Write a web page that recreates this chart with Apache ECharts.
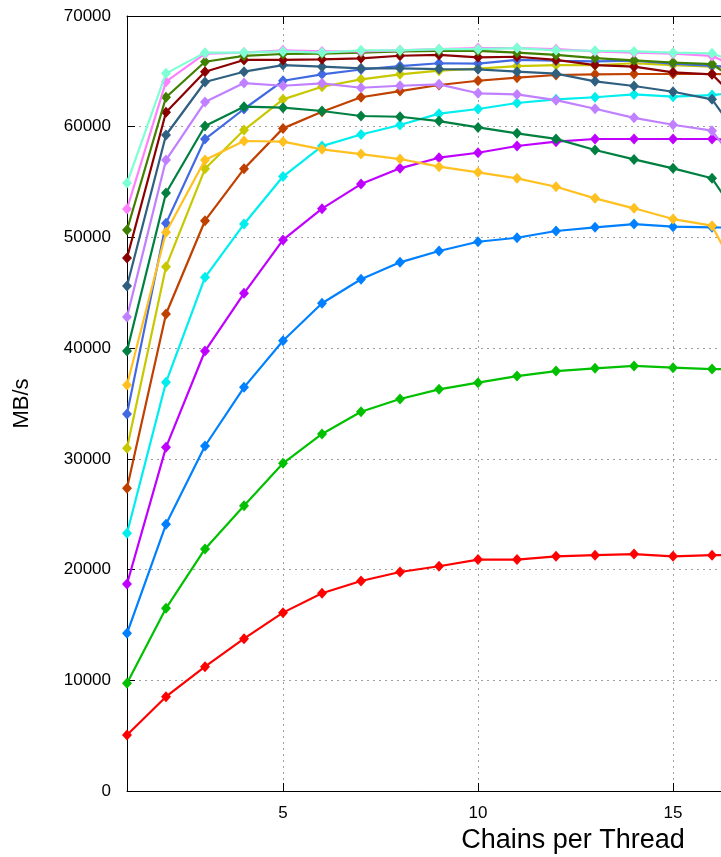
<!DOCTYPE html>
<html>
<head>
<meta charset="utf-8">
<script src="https://cdn.jsdelivr.net/npm/echarts@6/dist/echarts.min.js"></script>
<style>
html,body{margin:0;padding:0;background:#fff;}
#chart{width:721px;height:857px;}
</style>
</head>
<body>
<div id="chart"></div>
<script>
// Chains per thread (x values)
const chains = [1,2,3,4,5,6,7,8,9,10,11,12,13,14,15,16,17];
const xTickLabels = [5, 10, 15];
const yTickLabels = [0,10000,20000,30000,40000,50000,60000,70000];

// MB/s per thread count (1..16 threads)
const t1  = [5060, 8520, 11230, 13760, 16110, 17860, 18970, 19780, 20300, 20900, 20900, 21200, 21300, 21400, 21200, 21300, 21300];
const t2  = [9730, 16500, 21860, 25770, 29600, 32250, 34250, 35410, 36280, 36880, 37480, 37930, 38180, 38390, 38240, 38110, 38100];
const t3  = [14240, 24090, 31160, 36460, 40670, 44050, 46220, 47750, 48770, 49610, 49970, 50580, 50910, 51210, 50970, 50910, 50850];
const t4  = [18700, 31040, 39740, 44950, 49770, 52600, 54820, 56240, 57200, 57650, 58260, 58650, 58890, 58890, 58890, 58890, 58800];
const t5  = [23280, 36910, 46400, 51210, 55500, 58250, 59300, 60150, 61180, 61600, 62140, 62470, 62660, 62920, 62710, 62860, 63200];
const t6  = [27340, 43080, 51510, 56200, 59850, 61360, 62660, 63220, 63770, 64150, 64430, 64670, 64730, 64760, 64760, 64760, 64700];
const t7  = [30950, 47360, 56200, 59700, 62470, 63610, 64280, 64730, 65060, 65250, 65480, 65570, 65550, 65730, 65570, 65420, 65300];
const t8  = [34050, 51270, 58890, 61600, 64150, 64730, 65170, 65480, 65730, 65700, 66030, 65960, 65900, 65960, 65700, 65500, 65300];
const t9  = [36670, 50460, 57000, 58710, 58650, 57960, 57530, 57080, 56390, 55880, 55340, 54580, 53530, 52630, 51660, 51060, 44300];
const t10 = [39740, 54010, 60060, 61810, 61720, 61420, 60970, 60900, 60510, 59940, 59400, 58900, 57900, 57050, 56240, 55340, 50100];
const t11 = [42810, 56990, 62230, 63940, 63700, 63920, 63520, 63700, 63830, 63020, 62920, 62400, 61620, 60800, 60180, 59640, 55000];
const t12 = [45610, 59250, 64040, 64970, 65570, 65420, 65270, 65270, 65210, 65180, 64970, 64800, 64100, 63680, 63160, 62470, 57600];
const t13 = [48140, 61300, 64970, 66030, 66030, 66090, 66180, 66410, 66480, 66270, 66320, 66030, 65570, 65420, 64910, 64730, 61200];
const t14 = [50670, 62660, 65870, 66400, 66570, 66600, 66700, 66800, 66850, 66850, 66690, 66480, 66200, 66000, 65800, 65660, 63300];
const t15 = [52570, 64070, 66600, 66700, 66900, 66800, 66800, 66900, 67000, 67100, 67100, 67000, 66800, 66700, 66600, 66390, 64800];
const t16 = [54910, 64820, 66690, 66700, 66800, 66700, 66900, 66900, 67000, 67000, 67100, 66900, 66860, 66800, 66690, 66630, 65300];

const seriesValues = [t1,t2,t3,t4,t5,t6,t7,t8,t9,t10,t11,t12,t13,t14,t15,t16];
const seriesNames = ['1','2','3','4','5','6','7','8','9','10','11','12','13','14','15','16'];
const colors = ['#ff0000','#00c000','#0080ff','#c000ff','#00eeee','#c04000','#c8c800','#4169e1',
                '#ffc020','#008040','#c080ff','#306080','#8b0000','#408000','#ff80ff','#7fffd4'];

const FONT = '"Liberation Sans", Arial, sans-serif';
// visible x range ends where the picture is cut off
const X_MIN = 1, X_MAX = 16.23;

const chart = echarts.init(document.getElementById('chart'), null, {renderer:'canvas'});

const series = seriesValues.map((vals, i) => ({
  name: seriesNames[i],
  type: 'line',
  data: chains.map((c, j) => [c, vals[j]]),
  symbol: 'diamond',
  symbolSize: [10, 11],
  showAllSymbol: true,
  clip: true,
  animation: false,
  lineStyle: {width: 2.2, color: colors[i]},
  itemStyle: {color: colors[i]},
  emphasis: {disabled: true},
  z: 2 + i
}));

const gridLine = {show: true, lineStyle: {color: '#a0a0a0', type: [2, 4], width: 1}};

chart.setOption({
  backgroundColor: '#ffffff',
  animation: false,
  grid: {left: 127, top: 16, right: 0, bottom: 66},
  xAxis: [{
    type: 'value', min: X_MIN, max: X_MAX,
    axisLine: {show: true, onZero: false, lineStyle: {color: '#000', width: 1}},
    axisTick: {show: true, inside: true, length: 8, customValues: xTickLabels, lineStyle: {color: '#000'}},
    axisLabel: {customValues: xTickLabels, color: '#000', fontSize: 17, fontFamily: FONT, margin: 14},
    splitLine: gridLine
  }, {
    type: 'value', min: X_MIN, max: X_MAX, position: 'top',
    axisLine: {show: true, onZero: false, lineStyle: {color: '#000', width: 1}},
    axisTick: {show: true, inside: true, length: 8, customValues: xTickLabels, lineStyle: {color: '#000'}},
    axisLabel: {show: false},
    splitLine: {show: false}
  }],
  yAxis: [{
    type: 'value', min: 0, max: 70000, interval: 10000,
    name: 'MB/s', nameLocation: 'middle', nameGap: 94, nameRotate: 90,
    nameTextStyle: {color: '#000', fontSize: 22, fontFamily: FONT},
    axisLine: {show: true, lineStyle: {color: '#000', width: 1}},
    axisTick: {show: true, inside: true, length: 8, lineStyle: {color: '#000'}},
    axisLabel: {color: '#000', fontSize: 17, fontFamily: FONT, margin: 16,
                formatter: v => String(v)},
    splitLine: gridLine
  }],
  graphic: [{
    type: 'text', x: 573, y: 841,
    style: {text: 'Chains per Thread', fill: '#000', font: '27px ' + FONT,
            textAlign: 'center', textVerticalAlign: 'middle'}
  }],
  series: series
});
</script>
</body>
</html>
